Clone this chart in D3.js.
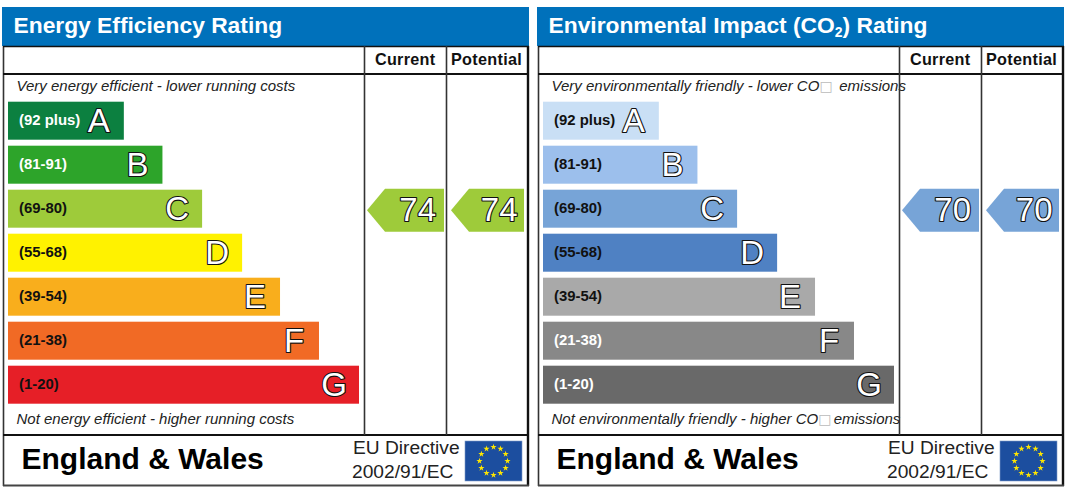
<!DOCTYPE html>
<html lang="en">
<head>
<meta charset="UTF-8">
<title>EPC rating</title>
<script src="https://cdn.jsdelivr.net/npm/d3@7"></script>
<style>
    html, body { margin: 0; padding: 0; background: #fff; }
    svg { display: block; }
    text { font-family: "Liberation Sans", Arial, sans-serif; }
</style>
</head>
<body>
<div id="chart"></div>
<script>
    // chart values
    const letters = ["A", "B", "C", "D", "E", "F", "G"];
    const ranges = ["(92 plus)", "(81-91)", "(69-80)", "(55-68)", "(39-54)", "(21-38)", "(1-20)"];
    const lengths = [33, 44, 55.3, 66.7, 77.5, 88.6, 100];
    const energyColors = ["#0c8040", "#2da42a", "#9ecb3a", "#fff200", "#f9ae1c", "#f16a25", "#e61f27"];
    const co2Colors = ["#c9dff5", "#9cbfec", "#77a4d7", "#4f81c3", "#a9a9a9", "#888888", "#696969"];
    const energyLabelColors = ["#fff", "#fff", "#111", "#111", "#111", "#111", "#111"];
    const co2LabelColors = ["#111", "#111", "#111", "#111", "#111", "#fff", "#fff"];
    const energyRatings = [74, 74];
    const co2Ratings = [70, 70];
    const columns = ["Current", "Potential"];

    const svg = d3.select("#chart").append("svg")
        .attr("width", 1069)
        .attr("height", 488);

    const x = d3.scaleLinear().domain([0, 100]).range([8, 359]);
    const y = d3.scaleBand().domain(letters).range([101.7, 403.7]).paddingInner(6 / 44);

    // which band a rating falls in
    const bandOf = d3.scaleThreshold()
        .domain([21, 39, 55, 69, 81, 92])
        .range(["G", "F", "E", "D", "C", "B", "A"]);

    function outlined(g, str, xPos, yPos, size, anchor) {
        return g.append("text")
            .attr("x", xPos)
            .attr("y", yPos)
            .attr("text-anchor", anchor)
            .attr("font-size", size)
            .attr("fill", "#fff")
            .attr("stroke", "#111")
            .attr("stroke-width", 2.2)
            .attr("stroke-linejoin", "round")
            .attr("paint-order", "stroke")
            .text(str);
    }

    function panel(left, opts) {
        const g = svg.append("g").attr("transform", "translate(" + left + ",0)");

        // blue title bar
        g.append("rect").attr("x", 2).attr("y", 7).attr("width", 527).attr("height", 39).attr("fill", "#0071bb");
        const title = g.append("text")
            .attr("x", 13.5).attr("y", 33)
            .attr("font-size", 22.8).attr("font-weight", "bold").attr("fill", "#fff");
        opts.title(title);

        // bars
        const rows = g.selectAll(".bar").data(letters).enter().append("g").attr("class", "bar");
        rows.append("rect")
            .attr("x", x(0))
            .attr("y", d => y(d))
            .attr("width", d => x(lengths[letters.indexOf(d)]) - x(0))
            .attr("height", y.bandwidth())
            .attr("fill", (d, i) => opts.colors[i]);
        rows.append("text")
            .attr("x", 19)
            .attr("y", d => y(d) + 23.3)
            .attr("font-size", 14.9)
            .attr("font-weight", "bold")
            .attr("fill", (d, i) => opts.labelColors[i])
            .text((d, i) => ranges[i]);
        rows.each(function (d, i) {
            outlined(d3.select(this), d, x(lengths[i]) - 25, y(d) + 30, 33, "middle");
        });

        // top and bottom captions
        const top = g.append("text").attr("x", 16.5).attr("y", 91)
            .attr("font-size", 15).attr("font-style", "italic").attr("fill", "#222");
        opts.topText(top);
        const bottom = g.append("text").attr("x", 16.5).attr("y", 424)
            .attr("font-size", 15).attr("font-style", "italic").attr("fill", "#222");
        opts.bottomText(bottom);

        // table lines
        const line = (x1, y1, x2, y2, w, c) => g.append("line")
            .attr("x1", x1).attr("y1", y1).attr("x2", x2).attr("y2", y2)
            .attr("stroke", c || "#111").attr("stroke-width", w);
        line(3.5, 46, 3.5, 486, 1.6, "#333");
        line(528, 46, 528, 486, 2.4);
        line(3, 46.5, 529, 46.5, 1.4);
        line(3, 74, 529, 74, 2);
        line(3, 435, 529, 435, 2.2);
        line(3, 485.5, 529, 485.5, 2, "#444");
        line(364.5, 46, 364.5, 435, 1.6, "#333");
        line(446.5, 46, 446.5, 435, 1.6, "#333");

        // column headers
        g.selectAll(".col").data(columns).enter().append("text")
            .attr("class", "col")
            .attr("x", (d, i) => [405.2, 486.5][i])
            .attr("y", 65.2)
            .attr("text-anchor", "middle")
            .attr("font-size", 16.2)
            .attr("font-weight", "bold")
            .attr("letter-spacing", 0.3)
            .attr("fill", "#111")
            .text(d => d);

        // rating pointers
        const slots = [{tip: 367, neck: 385, end: 444, pad: 8}, {tip: 451, neck: 469, end: 524, pad: 6.5}];
        opts.ratings.forEach((v, i) => {
            const s = slots[i];
            const top = y(bandOf(v)) - 1;
            const bot = top + 43;
            const mid = (top + bot) / 2;
            const p = d3.path();
            p.moveTo(s.tip, mid);
            p.lineTo(s.neck, top);
            p.lineTo(s.end, top);
            p.lineTo(s.end, bot);
            p.lineTo(s.neck, bot);
            p.closePath();
            g.append("path").attr("d", p.toString()).attr("fill", opts.colors[letters.indexOf("C")]);
            outlined(g, v, s.end - s.pad, top + 32, 33, "end");
        });

        // footer
        g.append("text").attr("x", 21.5).attr("y", 469)
            .attr("font-size", 30).attr("font-weight", "bold").attr("fill", "#000")
            .text("England & Wales");
        g.append("text").attr("x", 353).attr("y", 453.5).attr("font-size", 19.2).attr("fill", "#222").text("EU Directive");
        g.append("text").attr("x", 352).attr("y", 477.5).attr("font-size", 19.2).attr("fill", "#222").text("2002/91/EC");

        // EU flag
        g.append("rect").attr("x", 465).attr("y", 441).attr("width", 57).attr("height", 40)
            .attr("fill", "#1c4e9f").attr("stroke", "#7f9cc8").attr("stroke-width", 0.6);
        const star = d3.symbol().type(d3.symbolStar).size(12);
        g.selectAll(".star").data(d3.range(12)).enter().append("path")
            .attr("class", "star")
            .attr("d", star)
            .attr("fill", "#ffe600")
            .attr("transform", d => {
                const a = d * Math.PI / 6;
                return "translate(" + (493.5 + 14 * Math.sin(a)) + "," + (461 - 14 * Math.cos(a)) + ")";
            });
    }

    panel(0, {
        colors: energyColors,
        labelColors: energyLabelColors,
        ratings: energyRatings,
        title: t => t.text("Energy Efficiency Rating"),
        topText: t => t.text("Very energy efficient - lower running costs"),
        bottomText: t => t.text("Not energy efficient - higher running costs")
    });

    const co2Caption = (t, before, gap) => {
        t.append("tspan").text(before + " CO");
        t.append("tspan")
            .attr("fill", "#bbb")
            .attr("font-family", "DejaVu Sans")
            .attr("font-style", "normal")
            .attr("font-size", 14)
            .text("\u25a1");
        t.append("tspan").attr("dx", gap).text(" emissions");
    };

    panel(535, {
        colors: co2Colors,
        labelColors: co2LabelColors,
        ratings: co2Ratings,
        title: t => {
            t.append("tspan").text("Environmental Impact (CO");
            t.append("tspan").attr("font-size", 14).attr("dy", 4).text("2");
            t.append("tspan").attr("dy", -4).text(") Rating");
        },
        topText: t => co2Caption(t, "Very environmentally friendly - lower", 2.5),
        bottomText: t => co2Caption(t, "Not environmentally friendly - higher", -2)
    });
</script>
</body>
</html>
